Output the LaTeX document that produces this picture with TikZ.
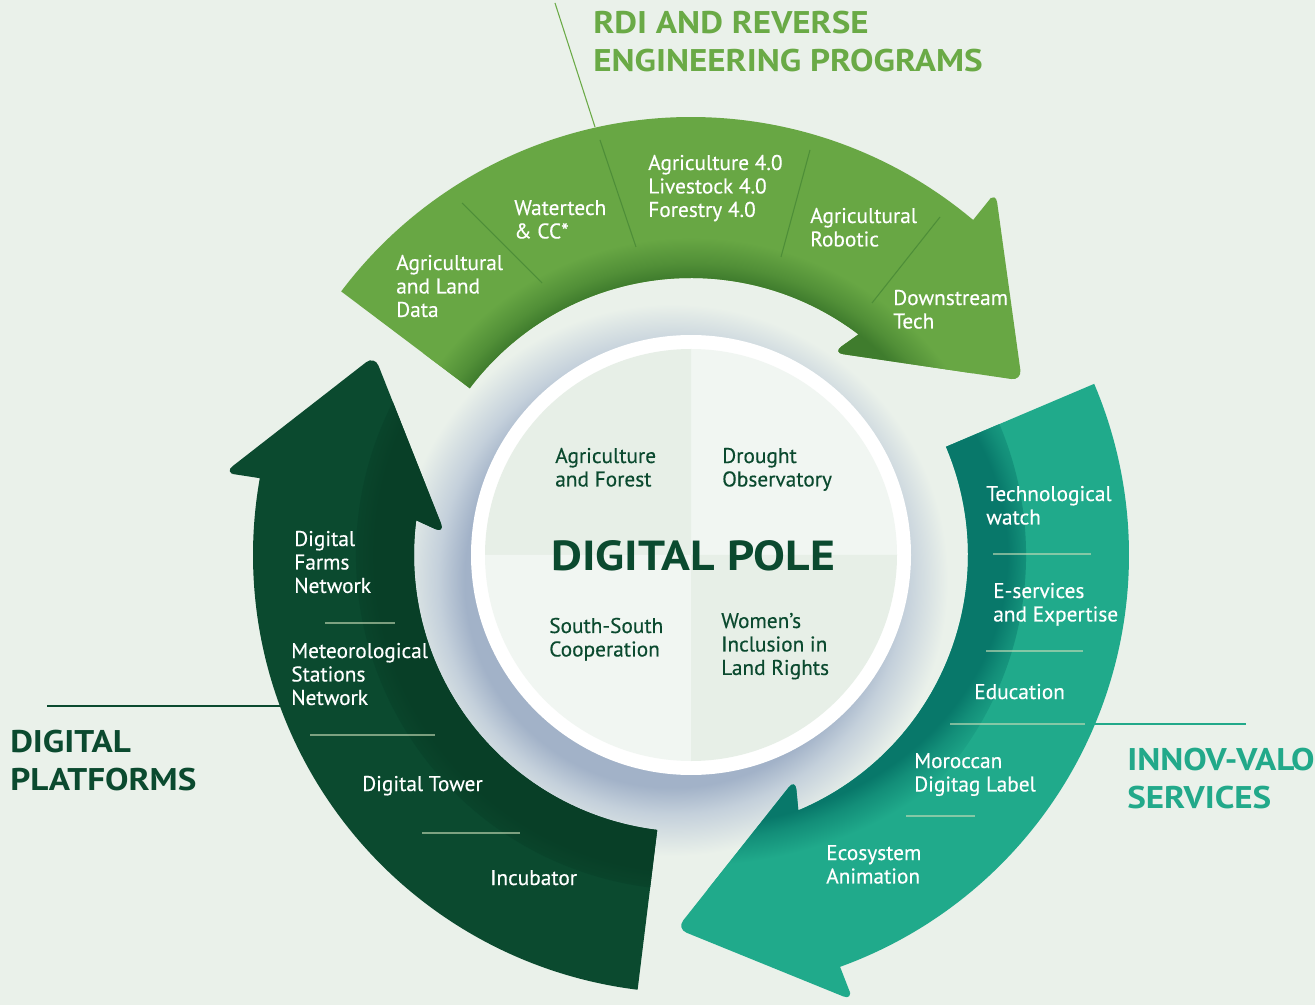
\documentclass[tikz,border=0pt]{standalone}
\usepackage{fontspec}
\setmainfont{PT Sans}
\newfontfamily\labfam[FakeBold=0.35]{PT Sans}
\newfontfamily\titlefam[FakeStretch=1.12]{PT Sans}
\newfontfamily\polefam[FakeStretch=1.135]{PT Sans}
\definecolor{bg}{HTML}{EAF1EA}
\definecolor{garrow}{HTML}{68A744}
\definecolor{gdark}{HTML}{3F7C2D}
\definecolor{darrow}{HTML}{0B4A2F}
\definecolor{ddark}{HTML}{083F27}
\definecolor{tarrow}{HTML}{20AA8B}
\definecolor{tdark}{HTML}{08786A}
\colorlet{gmid}{gdark!55!garrow}
\colorlet{dmid}{ddark!55!darrow}
\colorlet{tmid}{tdark!55!tarrow}
\definecolor{gline}{HTML}{4E8E38}
\definecolor{shadowc}{HTML}{A2B2C8}
\definecolor{shadowm}{HTML}{C4D0DB}
\definecolor{qdark}{HTML}{E7EFE7}
\definecolor{qlight}{HTML}{F1F6F2}
\definecolor{poletext}{HTML}{0B4A2F}
\definecolor{gtitle}{HTML}{6AAA46}
\definecolor{ttitle}{HTML}{22A98A}
\definecolor{divcol}{HTML}{C9DDB8}
% radius 335 <-> 25bp : 277 -> 20.67bp, 292 -> 21.8bp, 318 -> 23.7bp
\pgfdeclareradialshading{gshade}{\pgfpointorigin}{color(0bp)=(gdark); color(20.67bp)=(gdark); color(21.8bp)=(gmid); color(23.7bp)=(garrow); color(50bp)=(garrow)}
\pgfdeclareradialshading{dshade}{\pgfpointorigin}{color(0bp)=(ddark); color(20.67bp)=(ddark); color(21.8bp)=(dmid); color(23.5bp)=(darrow); color(50bp)=(darrow)}
\pgfdeclareradialshading{tshade}{\pgfpointorigin}{color(0bp)=(tdark); color(20.67bp)=(tdark); color(21.8bp)=(tmid); color(23.7bp)=(tarrow); color(50bp)=(tarrow)}
% radius 300 <-> 25bp
\pgfdeclareradialshading{circshadow}{\pgfpointorigin}{color(0bp)=(shadowc); color(17.3bp)=(shadowc); color(19.5bp)=(shadowm); color(23bp)=(bg); color(50bp)=(bg)}
\newcommand\arrowpath{(52.8:277) [rounded corners=8pt] -- (55:247) -- (27.8:374) -- (50:474) -- (49.95:456) [sharp corners] -- (49.9:438) arc[start angle=49.9, end angle=143, radius=438] -- (143:277) arc[start angle=143, end angle=52.8, radius=277] -- cycle}
\newcommand\labfont{\labfam\fontsize{16}{17.6}\selectfont}
\newcommand\titlefont{\titlefam\fontsize{23.5}{28.5}\selectfont\bfseries}
\newcommand\polefont{\polefam\fontsize{31.5}{34}\selectfont\bfseries}
\newcommand\mlines[1]{\begin{tabular}[t]{@{}l@{}}#1\end{tabular}}
\tikzset{
  cframe/.style={x=0.75pt,y=0.75pt,shift={(691,-555)}},
  lbl/.style={anchor=base west, inner sep=0pt, text=white, font=\labfont},
  ctr/.style={anchor=base west, inner sep=0pt, text=poletext, font=\labfont},
  ttl/.style={anchor=base west, inner sep=0pt, font=\titlefont},
  pole/.style={anchor=base west, inner sep=0pt, text=poletext, font=\polefont},
  gdiv/.style={gline, line width=0.8pt},
  wdiv/.style={divcol, opacity=0.6, line width=0.8pt},
}
\begin{document}
\begin{tikzpicture}[x=0.75pt,y=-0.75pt]
\useasboundingbox (0,0) rectangle (1315,1005);
\fill[bg] (0,0) rectangle (1315,1005);
% circle drop shadow
\shade[shading=circshadow] (672,580) circle (300);
% arrows
\foreach \ang/\col/\shd in {0/garrow/gshade,120/darrow/dshade,240/tarrow/tshade}{
  \begin{scope}[cframe, rotate=\ang]
    \fill[\col] \arrowpath;
    \begin{scope}
      \clip \arrowpath;
      \shade[shading=\shd] (0,0) circle (335);
    \end{scope}
  \end{scope}
}
% central disc
\begin{scope}[cframe]
  \fill[white] (0,0) circle (220);
  \fill[qlight] (0,0) -- (0:206) arc[start angle=0, end angle=90, radius=206] -- cycle;
  \fill[qdark] (0,0) -- (90:206) arc[start angle=90, end angle=180, radius=206] -- cycle;
  \fill[qlight] (0,0) -- (180:206) arc[start angle=180, end angle=270, radius=206] -- cycle;
  \fill[qdark] (0,0) -- (270:206) arc[start angle=270, end angle=360, radius=206] -- cycle;
\end{scope}
% dividers
\draw[gdiv] (462,203) -- (542,283);
\draw[gdiv] (600,140) -- (636,247);
\draw[gdiv] (810,150) -- (781,257);
\draw[gdiv] (940,217) -- (872,303);
\draw[wdiv] (325,623) -- (395,623);
\draw[wdiv] (310,735) -- (435,735);
\draw[wdiv] (422,833) -- (520,833);
\draw[wdiv] (993,554) -- (1091,554);
\draw[wdiv] (986,651) -- (1083,651);
\draw[wdiv] (950,724) -- (1085,724);
\draw[wdiv] (906,816) -- (975,816);
% leader lines
\coordinate (lg1) at (555,3);
\coordinate (lg2) at (595,127);
\coordinate (ld1) at (47,706);
\coordinate (ld2) at (281,706);
\coordinate (lt1) at (1095,724);
\coordinate (lt2) at (1246,724);
\draw[gtitle, line width=0.8pt] (lg1) -- (lg2);
\draw[darrow, line width=1.1pt] (ld1) -- (ld2);
\draw[ttitle, line width=1.1pt] (lt1) -- (lt2);
% green arrow labels
\node[lbl] (g1) at (396,270) {\mlines{Agricultural\\and Land\\Data}};
\node[lbl] (g2) at (514,215) {\mlines{Watertech\\\& CC*}};
\node[lbl] (g3) at (648,170) {\mlines{Agriculture 4.0\\Livestock 4.0\\Forestry 4.0}};
\node[lbl] (g4) at (810,223) {\mlines{Agricultural\\Robotic}};
\node[lbl] (g5) at (893,305) {\mlines{Downstream\\Tech}};
% dark arrow labels
\node[lbl] (d1) at (294,546) {\mlines{Digital\\Farms\\Network}};
\node[lbl] (d2) at (291,658) {\mlines{Meteorological\\Stations\\Network}};
\node[lbl] (d3) at (362,791) {Digital Tower};
\node[lbl] (d4) at (490,885) {Incubator};
% teal arrow labels
\node[lbl] (s1) at (986,501) {\mlines{Technological\\watch}};
\node[lbl] (s2) at (993,598) {\mlines{E-services\\and Expertise}};
\node[lbl] (s3) at (974,699) {Education};
\node[lbl] (s4) at (914,768) {\mlines{Moroccan\\Digitag Label}};
\node[lbl] (s5) at (826,860) {\mlines{Ecosystem\\Animation}};
% centre
\node[ctr] (c1) at (555,463) {\mlines{Agriculture\\and Forest}};
\node[ctr] (c2) at (722,463) {\mlines{Drought\\Observatory}};
\node[ctr] (c3) at (549,633) {\mlines{South-South\\Cooperation}};
\node[ctr] (c4) at (721,628) {\mlines{Women’s\\Inclusion in\\Land Rights}};
\node[pole] (c0) at (551,571) {DIGITAL POLE};
% titles
\node[ttl, text=gtitle] (T1) at (593,34) {\mlines{RDI AND REVERSE\\ENGINEERING PROGRAMS}};
\node[ttl, text=darrow] (T2) at (10,752) {\mlines{DIGITAL\\PLATFORMS}};
\node[ttl, text=ttitle] (T3) at (1127,770) {\mlines{INNOV-VALO\\SERVICES}};
\end{tikzpicture}
\end{document}
